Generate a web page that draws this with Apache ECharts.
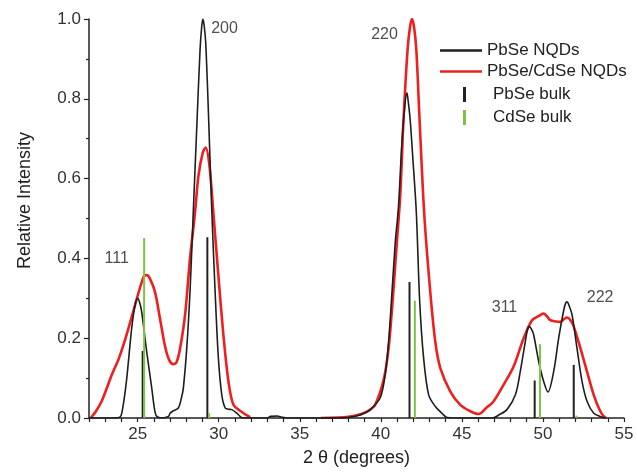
<!DOCTYPE html>
<html>
<head>
<meta charset="utf-8">
<script src="https://cdn.jsdelivr.net/npm/echarts@6/dist/echarts.min.js"></script>
<style>
  html, body { margin: 0; padding: 0; background: #fff; }
  #chart { width: 637px; height: 472px; }
</style>
</head>
<body>
<div id="chart"></div>
<script>
// PbSe NQDs (black curve)
const nqdAngle = [22.0, 23.5, 23.91, 24.1, 24.33, 24.63, 24.85, 25.0, 25.12, 25.25, 25.56, 25.87, 26.05, 26.18, 26.5,
  26.9, 27.0, 27.2, 27.51, 27.7, 27.82, 28.03, 28.23, 28.44, 28.65, 28.85, 28.95, 29.02, 29.1, 29.2, 29.36, 29.57,
  29.78, 29.98, 30.19, 30.4, 30.6, 30.81, 31.12, 31.32, 31.5, 33.0, 33.2, 33.6, 33.9, 34.2, 37.5, 38.5, 39.14, 39.35,
  39.96, 40.27, 40.48, 40.69, 40.89, 41.09, 41.3, 41.5, 41.61, 41.7, 41.81, 41.98, 42.19, 42.4, 42.64, 42.95, 43.36,
  43.77, 44.04, 44.5, 46.9, 47.3, 47.78, 48.3, 48.6, 48.91, 49.05, 49.16, 49.3, 49.43, 49.74, 50.04, 50.31, 50.66,
  50.97, 51.28, 51.4, 51.49, 51.6, 51.8, 52.1, 52.41, 52.72, 53.13, 53.54, 53.8];
const nqdIntensity = [0, 0, 0.002, 0.03, 0.10, 0.224, 0.285, 0.30, 0.29, 0.266, 0.166, 0.075, 0.02, 0.004, 0,
  0.004, 0.012, 0.018, 0.025, 0.05, 0.075, 0.175, 0.316, 0.524, 0.731, 0.923, 0.98, 1.0, 0.985, 0.94, 0.773, 0.524,
  0.316, 0.15, 0.058, 0.025, 0.022, 0.021, 0.012, 0.004, 0, 0, 0.004, 0.005, 0.002, 0, 0, 0.005, 0.015, 0.021,
  0.05, 0.108, 0.191, 0.316, 0.44, 0.53, 0.69, 0.79, 0.815, 0.79, 0.748, 0.648, 0.515, 0.29, 0.15, 0.058, 0.029,
  0.012, 0.002, 0, 0, 0.008, 0.021, 0.058, 0.116, 0.191, 0.222, 0.229, 0.222, 0.208, 0.141, 0.092, 0.065, 0.116,
  0.2, 0.27, 0.288, 0.291, 0.283, 0.258, 0.175, 0.092, 0.042, 0.012, 0.004, 0];

// PbSe/CdSe NQDs (red curve); '-' marks the stretch hidden under the axis
const shellAngle = [22.1, 22.4, 22.78, 23.1, 23.4, 23.81, 24.1, 24.43, 24.75, 25.04, 25.25, 25.41, 25.56, 25.75,
  26.07, 26.38, 26.69, 26.95, 27.2, 27.4, 27.62, 27.93, 28.23, 28.54, 28.75, 29.02, 29.2, 29.43, 29.67, 29.98, 30.29,
  30.6, 30.91, 31.43, 31.94, 34.0, 36.3, 38.0, 38.8, 39.3, 39.65, 40.17, 40.48, 40.74, 40.99, 41.2, 41.4, 41.65,
  41.8, 41.92, 42.05, 42.19, 42.39, 42.68, 43.05, 43.36, 43.67, 44.28, 44.9, 45.52, 46.03, 46.5, 46.96, 47.57,
  48.19, 48.81, 49.33, 49.84, 50.04, 50.25, 50.46, 50.8, 51.07, 51.3, 51.49, 51.7, 51.9, 52.31, 52.72, 53.13, 53.5,
  53.75, 53.9];
const shellIntensity = [0, 0.015, 0.042, 0.075, 0.108, 0.146, 0.18, 0.224, 0.27, 0.312, 0.34, 0.357, 0.358, 0.35,
  0.316, 0.249, 0.18, 0.145, 0.135, 0.14, 0.175, 0.26, 0.40, 0.515, 0.607, 0.665, 0.678, 0.632, 0.515, 0.357, 0.208,
  0.092, 0.033, 0.015, 0.002, '-', 0, 0.003, 0.01, 0.02, 0.033, 0.095, 0.175, 0.3, 0.44, 0.56, 0.748, 0.923,
  0.98, 1.0, 0.98, 0.923, 0.748, 0.51, 0.316, 0.191, 0.125, 0.067, 0.033, 0.017, 0.01, 0.025, 0.042, 0.083,
  0.129, 0.2, 0.245, 0.258, 0.262, 0.255, 0.245, 0.242, 0.241, 0.248, 0.252, 0.245, 0.229, 0.175, 0.116, 0.058, 0.02,
  0.004, 0];

// bulk reference sticks
const pbseBulkAngle = [25.31, 29.30, 41.77, 49.49, 51.90];
const pbseBulkIntensity = [0.168, 0.453, 0.341, 0.094, 0.133];
const cdseBulkAngle = [25.40, 29.41, 42.10, 49.82, 52.06];
const cdseBulkIntensity = [0.451, 0.012, 0.294, 0.185, 0.006];

// reflection labels
const peakNames = ['111', '200', '220', '311', '222'];
const peakNameAngle = [23.71, 30.36, 40.23, 47.63, 53.53];
const peakNameIntensity = [0.399, 0.975, 0.96, 0.277, 0.302];

const xLabelValues = [25, 30, 35, 40, 45, 50, 55];
const xTickValues = [];
for (let v = 22; v <= 55; v++) xTickValues.push(v);

const zip = (a, b) => a.map((v, i) => [v, b[i]]);
const font = 'Liberation Sans, Arial, sans-serif';

const chart = echarts.init(document.getElementById('chart'));
chart.setOption({
  animation: false,
  backgroundColor: '#fff',
  textStyle: { fontFamily: font },
  grid: { left: 89, right: 13, top: 19, bottom: 52 },
  legend: [
    {
      orient: 'vertical',
      left: 435,
      top: 37,
      itemWidth: 42,
      itemHeight: 2.5,
      itemGap: 4,
      icon: 'rect',
      data: ['PbSe NQDs', 'PbSe/CdSe NQDs'],
      textStyle: { fontSize: 17, color: '#222', fontFamily: font }
    },
    {
      orient: 'vertical',
      left: 458,
      top: 81,
      itemWidth: 3,
      itemHeight: 15,
      itemGap: 6,
      icon: 'rect',
      data: ['PbSe bulk', 'CdSe bulk'],
      textStyle: { fontSize: 17, color: '#222', fontFamily: font, padding: [0, 0, 0, 22] }
    }
  ],
  xAxis: {
    type: 'value',
    min: 22,
    max: 55,
    z: 3,
    name: '2 θ (degrees)',
    nameLocation: 'middle',
    nameGap: 31,
    nameTextStyle: { fontSize: 18, color: '#222' },
    axisLine: { lineStyle: { color: '#222', width: 1.5 } },
    axisTick: { customValues: xTickValues, length: 4, lineStyle: { color: '#222', width: 1.2 } },
    axisLabel: { customValues: xLabelValues, fontSize: 17, color: '#333', margin: 8 },
    splitLine: { show: false }
  },
  yAxis: {
    type: 'value',
    min: 0,
    max: 1,
    interval: 0.2,
    name: 'Relative Intensity',
    nameLocation: 'middle',
    nameGap: 55,
    nameTextStyle: { fontSize: 18, color: '#222', padding: [0, 0, 0, 36] },
    axisLine: { show: true, lineStyle: { color: '#222', width: 1.5 } },
    axisTick: { length: 5, lineStyle: { color: '#222', width: 1.2 } },
    minorTick: { show: true, splitNumber: 2, length: 3, lineStyle: { color: '#222', width: 1.2 } },
    axisLabel: { fontSize: 17, color: '#333', margin: 8, formatter: v => v.toFixed(1) },
    splitLine: { show: false }
  },
  series: [
    {
      name: 'PbSe NQDs',
      type: 'line',
      data: zip(nqdAngle, nqdIntensity),
      showSymbol: false,
      symbol: 'none',
      smooth: 0.3,
      color: '#1e1e1e',
      lineStyle: { color: '#1e1e1e', width: 1.6 },
      z: 3
    },
    {
      name: 'PbSe/CdSe NQDs',
      type: 'line',
      data: zip(shellAngle, shellIntensity),
      showSymbol: false,
      symbol: 'none',
      smooth: 0.3,
      connectNulls: false,
      color: '#f01f1f',
      lineStyle: { color: '#f01f1f', width: 2.6 },
      z: 2
    },
    {
      name: 'PbSe bulk',
      type: 'bar',
      data: zip(pbseBulkAngle, pbseBulkIntensity),
      barWidth: 2,
      barGap: '-100%',
      color: '#222',
      itemStyle: { color: '#222' },
      z: 4
    },
    {
      name: 'CdSe bulk',
      type: 'bar',
      data: zip(cdseBulkAngle, cdseBulkIntensity),
      barWidth: 2,
      barGap: '-100%',
      color: '#7cc443',
      itemStyle: { color: '#7cc443' },
      z: 4
    },
    {
      type: 'scatter',
      symbolSize: 0,
      silent: true,
      data: peakNames.map((n, i) => ({ value: [peakNameAngle[i], peakNameIntensity[i]], name: n })),
      label: {
        show: true,
        position: 'inside',
        formatter: p => p.name,
        fontSize: 16,
        color: '#222',
        fontFamily: font
      }
    }
  ]
});
</script>
</body>
</html>
